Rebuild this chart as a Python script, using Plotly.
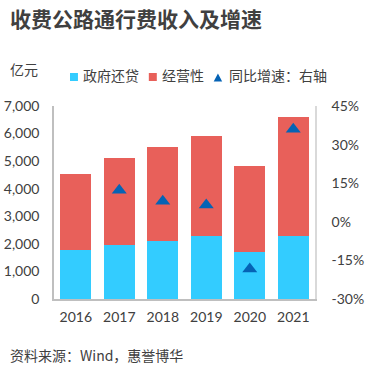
import plotly.graph_objects as go

years = ["2016", "2017", "2018", "2019", "2020", "2021"]
gov_repay = [1780, 1960, 2100, 2300, 1710, 2300]
total_income = [4530, 5100, 5500, 5920, 4820, 6600]
operating = [t - g for t, g in zip(total_income, gov_repay)]
yoy_growth = [None, 12.3, 8.0, 6.5, -18.3, 36.0]

left_ticks = [0, 1000, 2000, 3000, 4000, 5000, 6000, 7000]
right_ticks = [-30, -15, 0, 15, 30, 45]
right_tick_labels = ["-30%", "-15%", "0%", "15%", "30%", "45%"]

series_names = ["政府还贷", "经营性", "同比增速：右轴"]

BLUE = "#33CCFF"
RED = "#E8605A"
TRI = "#0563B5"
TXT = "#404040"
FONT = "Lato, 'Noto Sans CJK SC', sans-serif"
CJK = "'Noto Sans CJK SC', sans-serif"

W, H = 366, 374
L, T = 54, 106
PW, PH = 261.5, 193
R, B = W - L - PW, H - T - PH


def px_x(x):
    return (x - L) / PW


def px_y(y):
    return 1 - (y - T) / PH


fig = go.Figure()
fig.add_trace(go.Bar(x=years, y=gov_repay, name=series_names[0], marker_color=BLUE,
                     marker_line_width=0))
fig.add_trace(go.Bar(x=years, y=operating, name=series_names[1], marker_color=RED,
                     marker_line_width=0))
fig.add_trace(go.Scatter(x=years, y=yoy_growth, name=series_names[2], mode="markers",
                         marker=dict(symbol="triangle-up", size=13, color=TRI),
                         yaxis="y2"))

fig.update_layout(
    width=W, height=H,
    margin=dict(l=L, r=R, t=T, b=B, autoexpand=False),
    barmode="stack", bargap=0.29,
    plot_bgcolor="white", paper_bgcolor="white",
    font=dict(family=FONT, size=14, color=TXT),
    showlegend=False,
    xaxis=dict(showline=True, linecolor="#BFBFBF", linewidth=1.5, ticks="",
               tickfont=dict(size=14, color=TXT), showgrid=False,
               ticklabelstandoff=4, automargin=False),
    yaxis=dict(range=[0, 7000], tickvals=left_ticks, tickformat=",d",
               showline=True, linecolor="#BFBFBF", linewidth=1.5, showgrid=False,
               zeroline=False, ticks="", ticklabelstandoff=10, automargin=False,
               tickfont=dict(size=14, color=TXT)),
    yaxis2=dict(range=[-30, 45], tickmode="array", tickvals=right_ticks,
                ticktext=right_tick_labels,
                overlaying="y", side="right", showline=True, linecolor="#D9D9D9",
                linewidth=1.5, showgrid=False, zeroline=False, ticks="",
                ticklabelstandoff=12, automargin=False,
                tickfont=dict(size=14, color=TXT)),
)

# text blocks (positions in page pixels)
for txt, x, y, size in [
    ("<b>收费公路通行费收入及增速</b>", 8, 18, 21),
    ("亿元", 8, 69, 14),
    (series_names[0], 81, 75, 14),
    (series_names[1], 160, 75, 14),
    (series_names[2], 227, 75, 14),
    ("资料来源：Wind，惠誉博华", 8, 355, 14),
]:
    fig.add_annotation(text=txt, x=px_x(x), y=px_y(y), xref="paper", yref="paper",
                       xanchor="left", yanchor="middle", showarrow=False,
                       font=dict(family=CJK, size=size, color=TXT))

# legend symbols
for x0, color in [(70, BLUE), (149, RED)]:
    fig.add_shape(type="rect", xref="paper", yref="paper",
                  x0=px_x(x0), x1=px_x(x0 + 8), y0=px_y(73), y1=px_y(81),
                  fillcolor=color, line_width=0)
fig.add_shape(type="path", xref="paper", yref="paper",
              path="M {:.5f} {:.5f} L {:.5f} {:.5f} L {:.5f} {:.5f} Z".format(
                  px_x(214), px_y(81.5), px_x(222.5), px_y(81.5), px_x(218.25), px_y(73.5)),
              fillcolor=TRI, line_width=0)

fig.write_html("out.html",
               config={"displayModeBar": False},
               post_script="document.body.style.margin='0';document.body.style.overflow='hidden';")
